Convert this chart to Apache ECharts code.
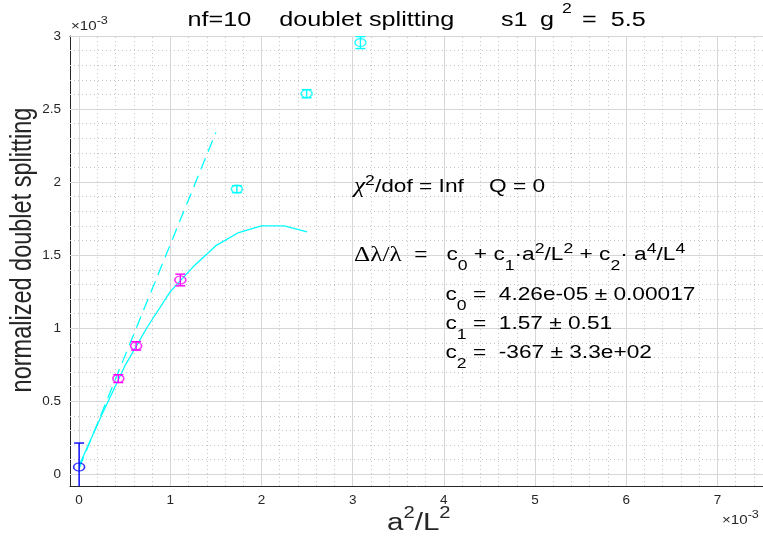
<!DOCTYPE html>
<html><head><meta charset="utf-8">
<script src="https://cdn.jsdelivr.net/npm/echarts@6/dist/echarts.min.js"></script>
<style>html,body{margin:0;padding:0;background:#fff}#c{width:763px;height:539px}</style>
</head><body><div id="c"></div>
<script>
// all values in units of 1e-3 (as shown on the axes)
const blueX = [0], blueY = [0.05], blueErr = [0.164];
const magX = [0.43, 0.625, 1.11], magY = [0.655, 0.879, 1.33], magErr = [0.027, 0.029, 0.04];
const cyanX = [1.73, 2.495, 3.085], cyanY = [1.952, 2.605, 2.955], cyanErr = [0.024, 0.028, 0.041];
const fitX = [0, 0.25, 0.5, 0.75, 1.0, 1.25, 1.5, 1.75, 2.0, 2.25, 2.5];
const fitY = [0.06, 0.41, 0.74, 1.01, 1.25, 1.42, 1.565, 1.655, 1.70, 1.70, 1.66];
const linX = [0, 1.5], linY = [0.04, 2.34];
const xTicks = [0, 1, 2, 3, 4, 5, 6, 7];
const yTicks = [0, 0.5, 1, 1.5, 2, 2.5, 3];
const xMinorStep = 0.2, yMinorStep = 0.1;

const AX = '#262626';
const FONT = 'Liberation Sans, Arial, sans-serif';
const SX = 1.26;

const chart = echarts.init(document.getElementById('c'), null, {renderer: 'canvas'});

// grid lines (major solid, minor dotted)
const gridLines = [];
xTicks.forEach(v => gridLines.push({xAxis: v, lineStyle: {color: '#d6d6d6', width: 1, type: 'solid'}}));
yTicks.forEach(v => gridLines.push({yAxis: v, lineStyle: {color: '#d6d6d6', width: 1, type: 'solid'}}));
for (let i = 1; i * xMinorStep < 7.5; i++) {
  const v = +(i * xMinorStep).toFixed(3);
  if (Math.abs(v - Math.round(v)) > 1e-6) gridLines.push({xAxis: v, lineStyle: {color: '#c6c6c6', width: 1, type: [1, 3]}});
}
for (let i = 1; i * yMinorStep < 3; i++) {
  const v = +(i * yMinorStep).toFixed(3);
  if (Math.abs(v * 2 - Math.round(v * 2)) > 1e-6) gridLines.push({yAxis: v, lineStyle: {color: '#c6c6c6', width: 1, type: [1, 3]}});
}

function errSeries(xs, ys, es, color) {
  return {
    type: 'custom', coordinateSystem: 'cartesian2d', clip: true, z: 4,
    data: xs.map((x, i) => [x, ys[i] - es[i], ys[i] + es[i]]),
    encode: {x: 0, y: [1, 2]},
    renderItem(params, api) {
      const lo = api.coord([api.value(0), api.value(1)]);
      const hi = api.coord([api.value(0), api.value(2)]);
      const w = 5;
      const st = {stroke: color, lineWidth: 1.4, fill: null};
      return {type: 'group', children: [
        {type: 'line', shape: {x1: lo[0], y1: lo[1], x2: hi[0], y2: hi[1]}, style: st},
        {type: 'line', shape: {x1: lo[0] - w, y1: lo[1], x2: lo[0] + w, y2: lo[1]}, style: st},
        {type: 'line', shape: {x1: hi[0] - w, y1: hi[1], x2: hi[0] + w, y2: hi[1]}, style: st}
      ]};
    }
  };
}
function markers(xs, ys, color) {
  return {
    type: 'scatter', z: 5, symbol: 'circle', symbolSize: [11, 8],
    data: xs.map((x, i) => [x, ys[i]]),
    itemStyle: {color: 'rgba(0,0,0,0)', borderColor: color, borderWidth: 1.4},
    emphasis: {disabled: true}
  };
}

const axisCommon = {
  type: 'value',
  axisLine: {show: true, onZero: false, lineStyle: {color: AX, width: 1}},
  splitLine: {show: false}
};

const rich = {
  b: {fontSize: 18, fontFamily: FONT, lineHeight: 36, fill: '#000'},
  g: {fontSize: 20, fontFamily: 'Liberation Serif, serif', lineHeight: 36, fill: '#000'},
  gi: {fontSize: 20, fontFamily: 'Liberation Serif, serif', fontStyle: 'italic', lineHeight: 36, fill: '#000'},
  sup: {fontSize: 14, fontFamily: FONT, lineHeight: 26, verticalAlign: 'top', padding: [5, 0, 0, 0], fill: '#000'},
  sub: {fontSize: 14, fontFamily: FONT, lineHeight: 17, verticalAlign: 'bottom', fill: '#000'}
};
function ann(x, y, text) {
  return {type: 'text', x: x, y: y, scaleX: SX, silent: true, z: 10,
    style: {text: text, rich: rich, align: 'left', verticalAlign: 'middle', fontSize: 18, fontFamily: FONT, fill: '#000'}};
}
function plain(x, y, text, size, opts) {
  return Object.assign({type: 'text', x: x, y: y, scaleX: SX, silent: true, z: 10,
    style: {text: text, fontSize: size, fontFamily: FONT, fill: '#000', align: 'left', verticalAlign: 'middle'}}, opts || {});
}
const expRich = {
  e: {fontSize: 12, fontFamily: FONT, lineHeight: 22, fill: AX},
  s: {fontSize: 10, fontFamily: FONT, lineHeight: 14, verticalAlign: 'top', fill: AX}
};
const xlRich = {
  b: {fontSize: 23.5, fontFamily: FONT, lineHeight: 40, fill: AX},
  sup: {fontSize: 16, fontFamily: FONT, lineHeight: 30, verticalAlign: 'top', padding: [2, 0, 0, 0], fill: AX}
};

chart.setOption({
  animation: false,
  backgroundColor: '#fff',
  grid: {left: 70, right: -2, top: 36, bottom: 53, containLabel: false},
  xAxis: [
    Object.assign({}, axisCommon, {min: -0.1, max: 7.5, position: 'bottom',
      axisTick: {show: true, inside: true, length: 5, customValues: xTicks, lineStyle: {color: AX}},
      axisLabel: {show: true, customValues: xTicks, color: AX, fontSize: 13.5, fontFamily: FONT, margin: 7}}),
    Object.assign({}, axisCommon, {min: -0.1, max: 7.5, position: 'top',
      axisTick: {show: true, inside: true, length: 5, customValues: xTicks, lineStyle: {color: AX}},
      axisLabel: {show: false}})
  ],
  yAxis: [
    Object.assign({}, axisCommon, {min: -0.08, max: 3, position: 'left',
      axisTick: {show: true, inside: true, length: 5, customValues: yTicks, lineStyle: {color: AX}},
      axisLabel: {show: true, customValues: yTicks, color: AX, fontSize: 13.5, fontFamily: FONT, margin: 9}})
  ],
  series: [
    {type: 'line', data: [], z: 1, silent: true,
      markLine: {silent: true, z: 1, symbol: ['none', 'none'], label: {show: false}, animation: false, data: gridLines}},
    {type: 'line', z: 3, data: fitX.map((x, i) => [x, fitY[i]]), showSymbol: false, symbol: 'none',
      lineStyle: {color: '#00ffff', width: 1.3}, emphasis: {disabled: true}},
    {type: 'line', z: 3, data: linX.map((x, i) => [x, linY[i]]), showSymbol: false, symbol: 'none',
      lineStyle: {color: '#00ffff', width: 1.3, type: [12, 7]}, emphasis: {disabled: true}},
    errSeries(blueX, blueY, blueErr, '#0000ff'),
    errSeries(magX, magY, magErr, '#ff00ff'),
    errSeries(cyanX, cyanY, cyanErr, '#00ffff'),
    markers(blueX, blueY, '#0000ff'),
    markers(magX, magY, '#ff00ff'),
    markers(cyanX, cyanY, '#00ffff')
  ],
  graphic: [
    // title
    plain(187.5, 20.4, 'nf=10    doublet splitting', 20),
    plain(501, 20.4, 's1', 20),
    plain(540, 20.4, 'g', 20),
    plain(562, 9, '2', 14),
    plain(582, 20.4, '=  5.5', 20),
    // axis names
    {type: 'text', x: 23, y: 250, rotation: Math.PI / 2, scaleY: SX, silent: true, z: 10,
      style: {text: 'normalized doublet splitting', fontSize: 23.5, fontFamily: FONT, fill: AX, align: 'center', verticalAlign: 'middle'}},
    {type: 'text', x: 387, y: 524, scaleX: SX, silent: true, z: 10,
      style: {text: '{b|a}{sup|2}{b|/L}{sup|2}', rich: xlRich, align: 'left', verticalAlign: 'middle'}},
    // exponent labels
    {type: 'text', x: 71, y: 27, scaleX: SX, silent: true, z: 10,
      style: {text: '{e|×10}{s|-3}', rich: expRich, align: 'left', verticalAlign: 'middle'}},
    {type: 'text', x: 722, y: 521, scaleX: SX, silent: true, z: 10,
      style: {text: '{e|×10}{s|-3}', rich: expRich, align: 'left', verticalAlign: 'middle'}},
    // annotations
    ann(354, 187.1, '{gi|χ}{sup|2}{b|/dof = Inf    Q = 0}'),
    ann(354, 255.5, '{g|Δλ/λ}{b|  =   c}{sub|0}{b| + c}{sub|1}{b|·a}{sup|2}{b|/L}{sup|2}{b| + c}{sub|2}{b|· a}{sup|4}{b|/L}{sup|4}'),
    ann(445.5, 295.5, '{b|c}{sub|0}{b| =  4.26e-05 ± 0.00017}'),
    ann(445.5, 323.8, '{b|c}{sub|1}{b| =  1.57 ± 0.51}'),
    ann(445.5, 352.8, '{b|c}{sub|2}{b| =  -367 ± 3.3e+02}')
  ]
});
</script>
</body></html>
